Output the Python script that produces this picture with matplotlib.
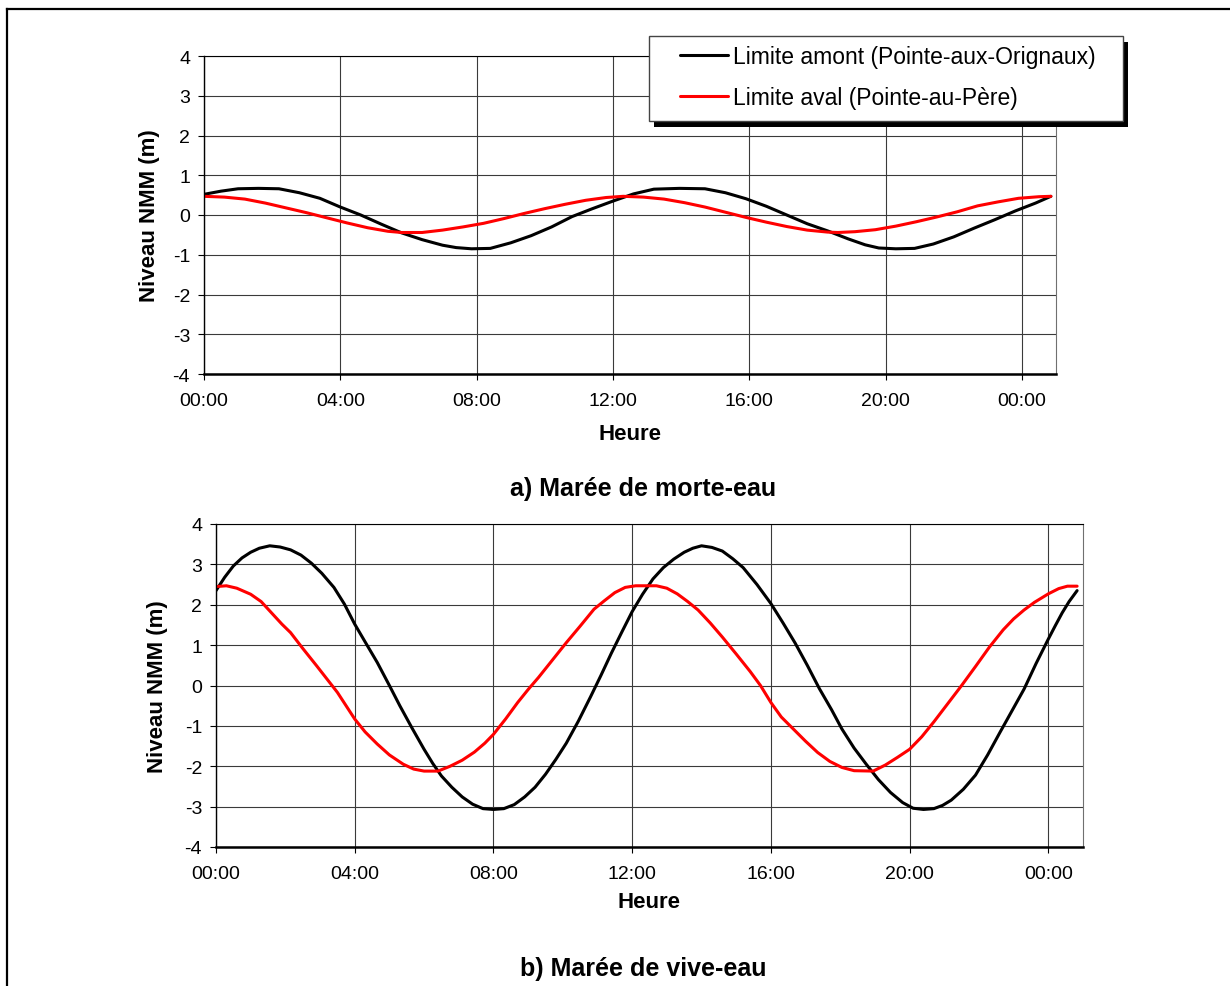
#!/usr/bin/env python3
"""
Niveaux de marée aux limites amont et aval (morte-eau / vive-eau).
"""

import matplotlib
matplotlib.use('Agg')
import matplotlib.pyplot as plt
from matplotlib.lines import Line2D
from matplotlib.patches import Rectangle

# --- Data (hours since 00:00, level in m) ---

# a) morte-eau, limite amont (Pointe-aux-Orignaux)
morte_amont_h = [0.0, 0.5, 1.0, 1.6, 2.2, 2.8, 3.4, 4.0, 4.6, 5.2, 5.8, 6.4, 7.0, 7.4,
                 7.85, 8.4, 9.0, 9.6, 10.2, 10.8, 11.4, 12.0, 12.6, 13.2, 13.95, 14.7,
                 15.3, 15.9, 16.5, 17.1, 17.7, 18.3, 18.9, 19.4, 19.8, 20.3, 20.85, 21.4,
                 22.0, 22.6, 23.2, 23.8, 24.4, 24.85]
morte_amont_m = [0.52, 0.60, 0.66, 0.67, 0.66, 0.56, 0.42, 0.20, 0.00, -0.23, -0.45, -0.62,
                 -0.76, -0.82, -0.85, -0.84, -0.70, -0.52, -0.30, -0.04, 0.16, 0.35, 0.53,
                 0.65, 0.67, 0.66, 0.56, 0.41, 0.22, 0.00, -0.22, -0.40, -0.60, -0.75,
                 -0.83, -0.85, -0.84, -0.73, -0.55, -0.33, -0.12, 0.10, 0.30, 0.47]

# a) morte-eau, limite aval (Pointe-au-Père)
morte_aval_h = [0.0, 0.6, 1.2, 1.8, 2.4, 3.0, 3.6, 4.2, 4.8, 5.4, 5.8, 6.4, 7.0, 7.6, 8.2,
                8.8, 9.4, 10.0, 10.6, 11.2, 11.8, 12.3, 12.9, 13.5, 14.1, 14.7, 15.3, 15.9,
                16.5, 17.1, 17.7, 18.3, 18.6, 19.1, 19.7, 20.3, 20.9, 21.5, 22.1, 22.7,
                23.3, 23.9, 24.5, 24.85]
morte_aval_m = [0.47, 0.45, 0.40, 0.30, 0.18, 0.06, -0.07, -0.20, -0.32, -0.41, -0.44,
                -0.44, -0.38, -0.30, -0.21, -0.09, 0.04, 0.16, 0.27, 0.37, 0.44, 0.47,
                0.45, 0.40, 0.31, 0.20, 0.07, -0.06, -0.18, -0.29, -0.38, -0.43, -0.44,
                -0.42, -0.37, -0.28, -0.17, -0.05, 0.08, 0.23, 0.33, 0.42, 0.46, 0.47]

# b) vive-eau, limite amont
vive_amont_h = [0.0, 0.25, 0.5, 0.75, 1.0, 1.25, 1.55, 1.85, 2.15, 2.45, 2.75, 3.05, 3.4,
                3.7, 4.0, 4.3, 4.65, 5.0, 5.3, 5.65, 6.0, 6.25, 6.5, 6.8, 7.1, 7.4, 7.7,
                8.0, 8.3, 8.6, 8.9, 9.2, 9.5, 9.8, 10.1, 10.45, 10.8, 11.1, 11.4, 11.7,
                12.0, 12.3, 12.6, 12.9, 13.2, 13.5, 13.75, 14.0, 14.3, 14.6, 14.9, 15.2,
                15.6, 16.0, 16.35, 16.7, 17.05, 17.4, 17.75, 18.05, 18.4, 18.75, 19.1,
                19.45, 19.8, 20.1, 20.4, 20.7, 20.95, 21.2, 21.55, 21.9, 22.25, 22.6,
                22.95, 23.3, 23.65, 24.0, 24.2, 24.4, 24.6, 24.83]
vive_amont_m = [2.35, 2.68, 2.96, 3.16, 3.30, 3.40, 3.46, 3.43, 3.36, 3.23, 3.03, 2.78,
                2.43, 2.02, 1.52, 1.08, 0.57, 0.00, -0.50, -1.05, -1.58, -1.93, -2.24,
                -2.52, -2.76, -2.94, -3.05, -3.07, -3.05, -2.95, -2.76, -2.52, -2.20,
                -1.83, -1.43, -0.88, -0.28, 0.25, 0.80, 1.32, 1.83, 2.26, 2.64, 2.92,
                3.13, 3.30, 3.40, 3.46, 3.42, 3.33, 3.14, 2.92, 2.50, 2.03, 1.55, 1.05,
                0.50, -0.08, -0.60, -1.08, -1.55, -1.95, -2.33, -2.65, -2.90, -3.04,
                -3.07, -3.05, -2.97, -2.84, -2.57, -2.22, -1.72, -1.17, -0.63, -0.09,
                0.55, 1.15, 1.48, 1.80, 2.08, 2.35]

# b) vive-eau, limite aval
vive_aval_h = [0.0, 0.3, 0.6, 1.0, 1.3, 1.6, 1.9, 2.15, 2.5, 2.9, 3.2, 3.5, 3.75, 4.0,
               4.3, 4.65, 5.0, 5.4, 5.7, 6.0, 6.4, 6.75, 7.1, 7.45, 7.75, 8.0, 8.35, 8.7,
               9.0, 9.3, 9.7, 10.1, 10.5, 10.9, 11.2, 11.5, 11.8, 12.1, 12.7, 13.0, 13.3,
               13.6, 13.9, 14.25, 14.6, 15.0, 15.4, 15.7, 16.0, 16.3, 16.65, 17.0, 17.35,
               17.7, 18.05, 18.4, 18.95, 19.3, 19.65, 20.0, 20.35, 20.7, 21.1, 21.5, 21.9,
               22.3, 22.7, 23.0, 23.3, 23.6, 24.0, 24.3, 24.55, 24.83]
vive_aval_m = [2.45, 2.47, 2.41, 2.26, 2.08, 1.80, 1.52, 1.31, 0.92, 0.49, 0.16, -0.17,
               -0.50, -0.83, -1.15, -1.45, -1.72, -1.95, -2.07, -2.12, -2.12, -2.00,
               -1.85, -1.65, -1.43, -1.21, -0.83, -0.42, -0.10, 0.20, 0.63, 1.06, 1.47,
               1.89, 2.10, 2.30, 2.43, 2.47, 2.47, 2.41, 2.27, 2.08, 1.87, 1.55, 1.20,
               0.78, 0.35, 0.00, -0.42, -0.78, -1.08, -1.38, -1.66, -1.88, -2.03, -2.11,
               -2.12, -1.97, -1.78, -1.58, -1.27, -0.90, -0.45, 0.00, 0.47, 0.95, 1.38,
               1.65, 1.87, 2.06, 2.27, 2.40, 2.46, 2.46]

hour_ticks = [0, 4, 8, 12, 16, 20, 24]
hour_labels = ['00:00', '04:00', '08:00', '12:00', '16:00', '20:00', '00:00']
level_ticks = [-4, -3, -2, -1, 0, 1, 2, 3, 4]

label_amont = 'Limite amont (Pointe-aux-Orignaux)'
label_aval = 'Limite aval (Pointe-au-Père)'

plt.rcParams['font.family'] = ['Liberation Sans', 'DejaVu Sans']
plt.rcParams['axes.unicode_minus'] = False

W, H = 1230, 987
fig = plt.figure(figsize=(W / 100, H / 100), dpi=100)


def px_box(x0, y0, x1, y1):
    """Pixel box (top-left origin) -> figure fraction rect."""
    return [x0 / W, 1 - y1 / H, (x1 - x0) / W, (y1 - y0) / H]


def style_axes(ax, ylabel_x, xlabel_y):
    ax.set_xlim(0, 25)
    ax.set_ylim(-4, 4)
    ax.set_xticks(hour_ticks)
    ax.set_xticklabels(hour_labels)
    ax.set_yticks(level_ticks)
    ax.grid(True, color='#3a3a3a', linewidth=0.8)
    ax.set_axisbelow(True)
    ax.tick_params(axis='both', direction='out', length=4, width=0.8,
                   labelsize=14, colors='black')
    ax.tick_params(axis='x', pad=9)
    ax.tick_params(axis='y', pad=6)
    ax.spines['top'].set_linewidth(0.8)
    ax.spines['right'].set_color('#707070')
    ax.spines['right'].set_linewidth(0.8)
    ax.spines['left'].set_linewidth(1.0)
    ax.spines['bottom'].set_linewidth(1.8)
    ax.set_xlabel('Heure', fontsize=16, fontweight='bold', va='center')
    ax.xaxis.set_label_coords(0.5, xlabel_y)
    ax.set_ylabel('Niveau NMM (m)', fontsize=16, fontweight='bold', va='center')
    ax.yaxis.set_label_coords(ylabel_x, 0.5)


line_kw = dict(lw=2.2, solid_joinstyle='round', solid_capstyle='round')

# a) Marée de morte-eau
ax1 = fig.add_axes(px_box(204, 57, 1056, 375))
l1, = ax1.plot(morte_amont_h, morte_amont_m, color='black', label=label_amont, **line_kw)
l2, = ax1.plot(morte_aval_h, morte_aval_m, color='#ff0000', label=label_aval, **line_kw)
style_axes(ax1, (149 - 204) / 852, (375 - 434) / 318)

# b) Marée de vive-eau
ax2 = fig.add_axes(px_box(216, 525, 1083, 848))
ax2.plot(vive_amont_h, vive_amont_m, color='black', **line_kw)
ax2.plot(vive_aval_h, vive_aval_m, color='#ff0000', **line_kw)
style_axes(ax2, (157 - 216) / 867, (848 - 903) / 323)

fig.text(643 / W, 1 - 489 / H, 'a) Marée de morte-eau', ha='center', va='center',
         fontsize=18, fontweight='bold')
fig.text(643 / W, 1 - 969 / H, 'b) Marée de vive-eau', ha='center', va='center',
         fontsize=18, fontweight='bold')

# legend box with hard black shadow, drawn over the top axes
lx0, ly0, lx1, ly1 = 649, 37, 1123, 122
fig.add_artist(Rectangle(((lx0 + 5) / W, 1 - (ly1 + 6) / H), (lx1 - lx0) / W,
                         (ly1 - ly0) / H, transform=fig.transFigure,
                         facecolor='black', edgecolor='none', zorder=4))
fig.add_artist(Rectangle((lx0 / W, 1 - ly1 / H), (lx1 - lx0) / W, (ly1 - ly0) / H,
                         transform=fig.transFigure, facecolor='white',
                         edgecolor='#444444', linewidth=1.0, zorder=5))
leg = fig.legend(handles=[l1, l2], loc='center left',
                 bbox_to_anchor=(680 / W, 1 - 78 / H), frameon=False,
                 fontsize=16.5, handlelength=2.1, handletextpad=0.2,
                 labelspacing=0.75, borderpad=0, borderaxespad=0)
leg.set_zorder(6)

# outer frame (only top and left edges are inside the picture)
fig.add_artist(Line2D([7 / W, 7 / W], [0, 1 - 10 / H], transform=fig.transFigure,
                      color='black', lw=1.6))
fig.add_artist(Line2D([7 / W, 1], [1 - 10 / H, 1 - 10 / H], transform=fig.transFigure,
                      color='black', lw=1.6))

fig.savefig('out.png', dpi=100)
